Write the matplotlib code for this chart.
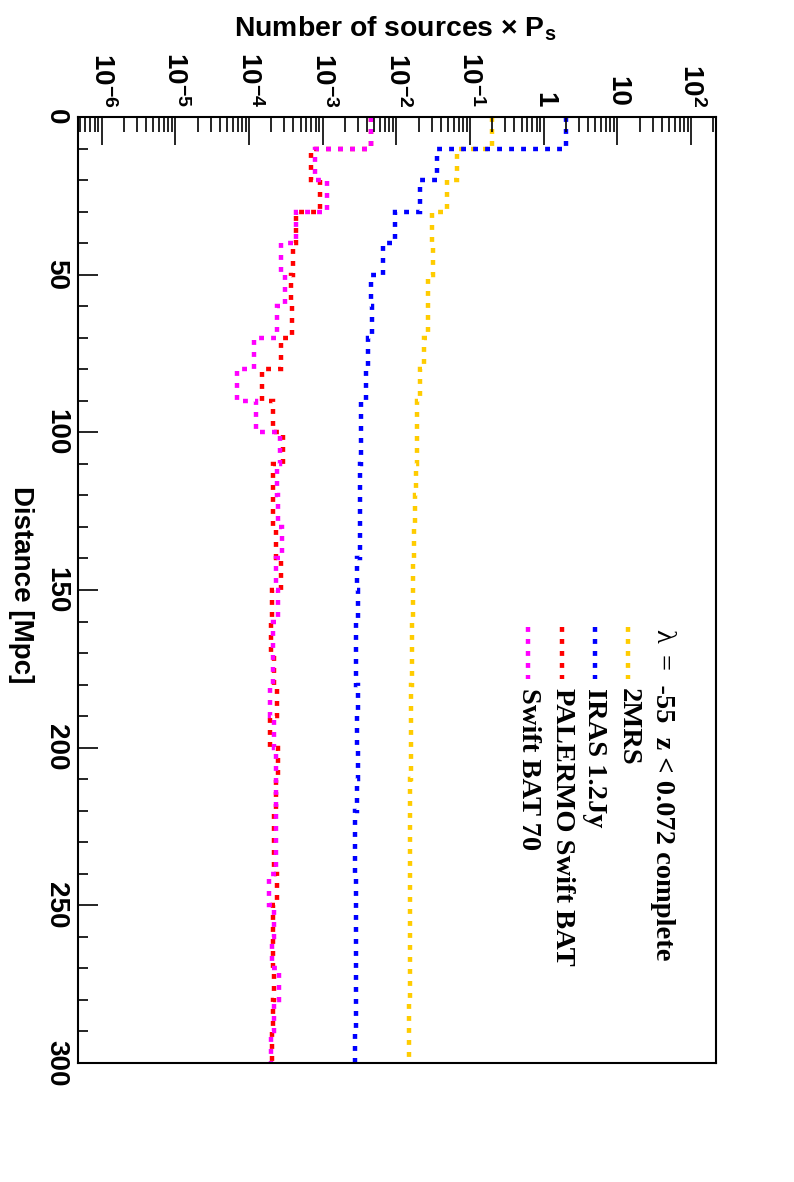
import matplotlib
matplotlib.use('Agg')
import matplotlib.pyplot as plt
from matplotlib.ticker import LogLocator, NullFormatter, MultipleLocator
from matplotlib.lines import Line2D
import numpy as np

W, H = 794, 1182

# 10 Mpc distance bins
distance_edges = np.arange(0, 310, 10)

twomrs = [0.2, 0.0656, 0.048, 0.030, 0.0316, 0.0265, 0.027, 0.0236, 0.0208, 0.0191,
          0.0188, 0.0182, 0.018, 0.0173, 0.0170, 0.0170, 0.0164, 0.0162, 0.0159, 0.0158,
          0.0157, 0.0155, 0.0153, 0.0153, 0.0153, 0.0152, 0.0152, 0.0152, 0.0150, 0.0150]
iras = [2.0, 0.0358, 0.0208, 0.0096, 0.0065, 0.00447, 0.0047, 0.00406, 0.00382, 0.00333,
        0.00327, 0.00324, 0.00324, 0.00316, 0.00291, 0.00303, 0.00285, 0.00282, 0.00297, 0.00288,
        0.00297, 0.00295, 0.00271, 0.00275, 0.0028, 0.00282, 0.00285, 0.00285, 0.00285, 0.00273]
palermo = [4.5e-3, 6.9e-4, 9.2e-4, 4.3e-4, 4.0e-4, 3.7e-4, 3.8e-4, 2.7e-4, 1.5e-4, 2.1e-4,
           2.9e-4, 2.1e-4, 2.1e-4, 2.3e-4, 2.7e-4, 2.07e-4, 1.96e-4, 2.2e-4, 2.37e-4, 1.9e-4,
           2.5e-4, 2.34e-4, 2.2e-4, 2.2e-4, 2.4e-4, 2.1e-4, 2.1e-4, 2.2e-4, 2.1e-4, 2.07e-4]
swift70 = [4.5e-3, 7.8e-4, 1.13e-3, 4.4e-4, 2.7e-4, 3.1e-4, 2.4e-4, 1.18e-4, 6.9e-5, 1.24e-4,
           2.6e-4, 2.4e-4, 2.5e-4, 2.8e-4, 2.3e-4, 2.5e-4, 2.1e-4, 2.1e-4, 1.9e-4, 2.2e-4,
           2.3e-4, 2.3e-4, 2.3e-4, 2.3e-4, 1.86e-4, 2.16e-4, 2.04e-4, 2.55e-4, 2.16e-4, 2.0e-4]

series = [twomrs, iras, palermo, swift70]
series_names = ['2MRS', 'IRAS 1.2Jy', 'PALERMO Swift BAT', 'Swift BAT 70']
series_colors = ['#ffcc00', '#0000ff', '#ff0000', '#ff00ff']

log_ticks = [1e-6, 1e-5, 1e-4, 1e-3, 1e-2, 1e-1, 1, 10, 100]
log_labels = [r'$10^{-6}$', r'$10^{-5}$', r'$10^{-4}$', r'$10^{-3}$', r'$10^{-2}$',
              r'$10^{-1}$', '1', '10', r'$10^{2}$']
dist_ticks = [0, 50, 100, 150, 200, 250, 300]

header_text = '=  -55  z < 0.072 complete'

plt.rcParams['mathtext.fontset'] = 'custom'
plt.rcParams['mathtext.rm'] = 'Liberation Sans:bold'
plt.rcParams['mathtext.it'] = 'Liberation Sans:bold'
plt.rcParams['mathtext.bf'] = 'Liberation Sans:bold'
plt.rcParams['font.family'] = 'Liberation Sans'


def fx(px):
    return px / W


def fy(py):
    return 1 - py / H


DOTS = (0, (1.1, 1.6))
LW = 3.2

fig = plt.figure(figsize=(W / 100, H / 100), dpi=100)
ax = fig.add_axes([fx(78), fy(1063), (716 - 78) / W, (1063 - 117) / H])

for vals, c in zip(series, series_colors):
    ax.stairs(vals, distance_edges, orientation='horizontal', baseline=None,
              color=c, linewidth=LW, linestyle=DOTS)

ax.set_xscale('log')
ax.set_xlim(10 ** -6.322, 10 ** 2.338)
ax.set_ylim(300, 0)

for sp in ax.spines.values():
    sp.set_linewidth(1.5)

# log axis at the top
ax.set_xticks(log_ticks, log_labels)
ax.xaxis.set_minor_locator(LogLocator(base=10, subs=np.arange(2, 10), numticks=60))
ax.xaxis.set_minor_formatter(NullFormatter())
ax.tick_params(axis='x', which='both', direction='in', top=True, bottom=False,
               labeltop=True, labelbottom=False, width=1.2)
ax.tick_params(axis='x', which='major', length=20, pad=7, labelsize=20)
ax.tick_params(axis='x', which='minor', length=11)
for t in ax.xaxis.get_major_ticks():
    t.label2.set(rotation=-90, rotation_mode='anchor', ha='right', va='center',
                 fontweight='bold')

# distance axis on the left
ax.set_yticks(dist_ticks)
ax.yaxis.set_minor_locator(MultipleLocator(10))
ax.tick_params(axis='y', which='both', direction='in', left=True, right=False, width=1.2)
ax.tick_params(axis='y', which='major', length=14.4, pad=6.5, labelsize=20)
ax.tick_params(axis='y', which='minor', length=7.5)
for t in ax.yaxis.get_major_ticks():
    t.label1.set(rotation=-90, rotation_mode='anchor', ha='center', va='top',
                 fontweight='bold')

# axis titles
fig.text(fx(395), fy(29), r'Number of sources $\mathregular{\times}$ P$_{\rm s}$',
         ha='center', va='center', fontsize=20.4, fontweight='bold')
fig.text(fx(21), fy(585), 'Distance [Mpc]', rotation=-90, ha='center', va='center',
         fontsize=20, fontweight='bold')

# legend (rotated like the rest of the page)
fig.text(fx(663), fy(629), 'λ', rotation=-90, rotation_mode='anchor', ha='left',
         va='center', family='Liberation Serif', fontsize=20.5)
fig.text(fx(663), fy(654), header_text, rotation=-90, rotation_mode='anchor',
         ha='left', va='center', family='Liberation Serif', fontsize=20.5,
         fontweight='bold')
leg_x = [628, 595, 562, 528]
for xp, name, c in zip(leg_x, series_names, series_colors):
    fig.add_artist(Line2D([fx(xp), fx(xp)], [fy(627), fy(679)], transform=fig.transFigure,
                          color=c, linewidth=LW, linestyle=DOTS))
    fig.text(fx(xp), fy(688), name, rotation=-90, rotation_mode='anchor', ha='left',
             va='center', family='Liberation Serif', fontsize=20.5, fontweight='bold')

fig.savefig('out.png', dpi=100)
